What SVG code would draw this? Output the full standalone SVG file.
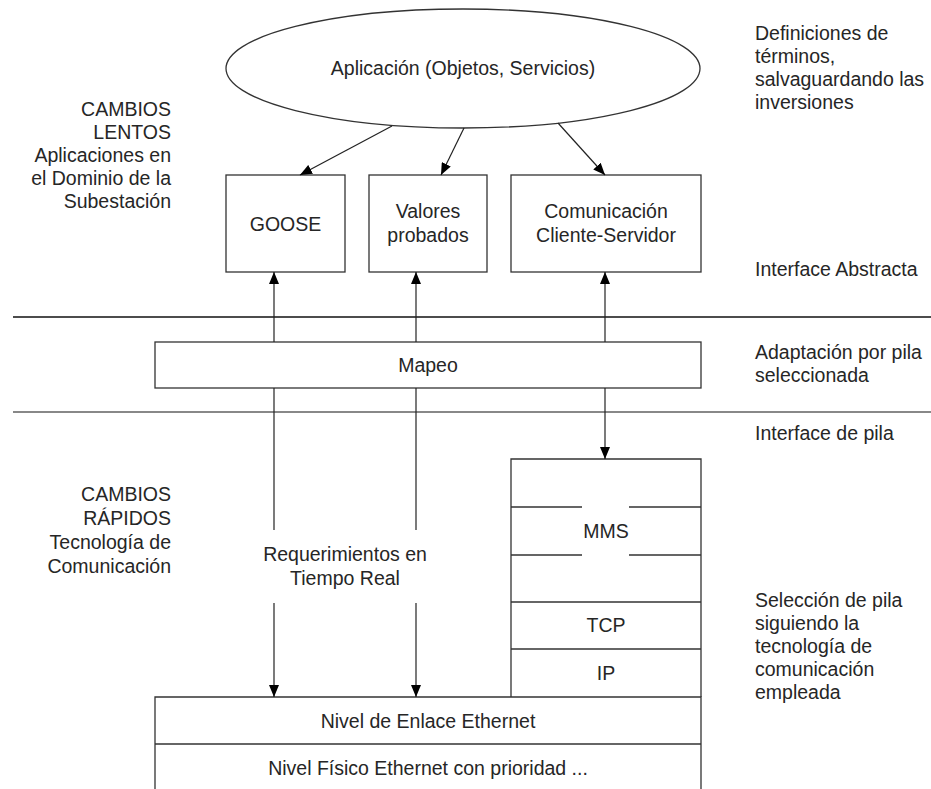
<svg xmlns="http://www.w3.org/2000/svg" width="931" height="789" viewBox="0 0 931 789">
  <defs>
    <marker id="arrow" viewBox="0 0 12 10" refX="12" refY="5" markerWidth="12" markerHeight="10" markerUnits="userSpaceOnUse" orient="auto">
      <path d="M0,0 L12,5 L0,10 Z" fill="#000"/>
    </marker>
    <style>
      text { font-family: "Liberation Sans", Arial, sans-serif; font-size: 19.5px; fill: #262626; }
      .c { text-anchor: middle; }
      .r { text-anchor: end; }
      .box { fill: #fff; stroke: #333; stroke-width: 1.3; }
      .edge { fill: none; stroke: #333; stroke-width: 1.3; }
      .conn { fill: none; stroke: #222; stroke-width: 1.2; }
      .arr { marker-end: url(#arrow); }
    </style>
  </defs>
  <rect width="931" height="789" fill="#fff"/>

  <!-- layer separators -->
  <g id="separators">
    <line x1="13" y1="317" x2="931" y2="317" stroke="#111" stroke-width="1.5"/>
    <line x1="13" y1="412" x2="931" y2="412" stroke="#888" stroke-width="2"/>
  </g>

  <!-- side annotations -->
  <g id="notes-left">
    <text class="r" x="171" y="116">CAMBIOS</text>
    <text class="r" x="171" y="139">LENTOS</text>
    <text class="r" x="171" y="162">Aplicaciones en</text>
    <text class="r" x="171" y="185">el Dominio de la</text>
    <text class="r" x="171" y="208">Subestación</text>
    <text class="r" x="171" y="501">CAMBIOS</text>
    <text class="r" x="171" y="525">RÁPIDOS</text>
    <text class="r" x="171" y="549">Tecnología de</text>
    <text class="r" x="171" y="573">Comunicación</text>
  </g>
  <g id="notes-right">
    <text x="755" y="40">Definiciones de</text>
    <text x="755" y="63">términos,</text>
    <text x="755" y="86">salvaguardando las</text>
    <text x="755" y="109">inversiones</text>
    <text x="755" y="276">Interface Abstracta</text>
    <text x="755" y="359">Adaptación por pila</text>
    <text x="755" y="382">seleccionada</text>
    <text x="755" y="440">Interface de pila</text>
    <text x="755" y="607">Selección de pila</text>
    <text x="755" y="630">siguiendo la</text>
    <text x="755" y="653">tecnología de</text>
    <text x="755" y="676">comunicación</text>
    <text x="755" y="699">empleada</text>
  </g>

  <!-- nodes -->
  <g id="aplicacion">
    <ellipse class="box" cx="463" cy="68.5" rx="237" ry="59.5"/>
    <text class="c" x="463" y="75">Aplicación (Objetos, Servicios)</text>
  </g>
  <g id="goose">
    <rect class="box" x="226" y="175" width="119" height="97"/>
    <text class="c" x="285.5" y="231">GOOSE</text>
  </g>
  <g id="valores">
    <rect class="box" x="369" y="175" width="118" height="97"/>
    <text class="c" x="428" y="218">Valores</text>
    <text class="c" x="428" y="242">probados</text>
  </g>
  <g id="cliente-servidor">
    <rect class="box" x="511" y="175" width="190" height="97"/>
    <text class="c" x="606" y="218">Comunicación</text>
    <text class="c" x="606" y="242">Cliente-Servidor</text>
  </g>
  <g id="mapeo">
    <rect class="box" x="155" y="342" width="546" height="46"/>
    <text class="c" x="428" y="372">Mapeo</text>
  </g>
  <g id="pila-mms">
    <path class="edge" d="M511,697 V459 H701 V697"/>
    <path class="edge" d="M511,507 H582 M629,507 H701 M511,555 H582 M629,555 H701"/>
    <line class="edge" x1="511" y1="602" x2="701" y2="602"/>
    <line class="edge" x1="511" y1="649" x2="701" y2="649"/>
    <text class="c" x="606" y="538">MMS</text>
    <text class="c" x="606" y="632">TCP</text>
    <text class="c" x="606" y="680">IP</text>
  </g>
  <g id="ethernet">
    <path class="edge" d="M155,789 V697 H701 V789"/>
    <line class="edge" x1="155" y1="744" x2="701" y2="744"/>
    <text class="c" x="428" y="728">Nivel de Enlace Ethernet</text>
    <text class="c" x="428" y="775">Nivel Físico Ethernet con prioridad ...</text>
  </g>
  <g id="tiempo-real">
    <text class="c" x="345" y="561">Requerimientos en</text>
    <text class="c" x="345" y="585">Tiempo Real</text>
  </g>

  <!-- connectors -->
  <g id="connectors">
    <line class="conn arr" x1="392" y1="126" x2="300" y2="175"/>
    <line class="conn arr" x1="464" y1="128" x2="441" y2="175"/>
    <line class="conn arr" x1="558" y1="123" x2="605" y2="175"/>
    <line class="conn arr" x1="274" y1="342" x2="274" y2="272"/>
    <line class="conn arr" x1="416" y1="342" x2="416" y2="272"/>
    <line class="conn arr" x1="605" y1="342" x2="605" y2="272"/>
    <line class="conn" x1="274" y1="388" x2="274" y2="530"/>
    <line class="conn arr" x1="274" y1="603" x2="274" y2="697"/>
    <line class="conn" x1="416" y1="388" x2="416" y2="530"/>
    <line class="conn arr" x1="416" y1="603" x2="416" y2="697"/>
    <line class="conn arr" x1="605" y1="388" x2="605" y2="459"/>
  </g>
</svg>
